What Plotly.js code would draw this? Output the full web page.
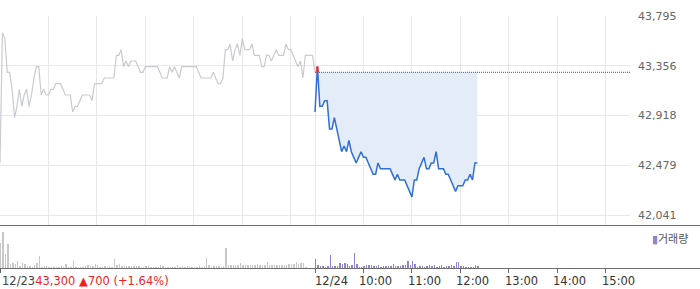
<!DOCTYPE html>
<html>
<head>
<meta charset="utf-8">
<script src="https://cdn.plot.ly/plotly-3.0.1.min.js"></script>
<style>html,body{margin:0;padding:0;background:#fff;}#chart{width:700px;height:289px;}</style>
</head>
<body>
<div id="chart"></div>
<script>
// ---- data ----
const STEP_MIN = 3;            // sampling interval (minutes)
const SESSION_MIN = 390;       // 09:00-15:30
const prevClose = 43300;       // 12/23 close
const dayLabels = ['12/23', '12/24'];
const closeText = '43,300 ▲700 (+1.64%)';

// 12/23 price, every 3 minutes from 09:00
const price1 = [
  42500, 43650, 43600, 43300, 43300, 43150, 42900, 43000, 43150, 43000,
  43100, 43150, 43000, 43100, 43250, 43350, 43350, 43100, 43150, 43100,
  43100, 43150, 43150, 43200, 43200, 43200, 43150, 43100, 43100, 43100,
  42950, 43000, 43000, 43050, 43100, 43100, 43100, 43100, 43050, 43200,
  43200, 43200, 43200, 43250, 43250, 43250, 43250, 43250, 43450, 43450,
  43500, 43350, 43400, 43350, 43400, 43400, 43400, 43350, 43300, 43300,
  43350, 43350, 43350, 43350, 43350, 43350, 43300, 43250, 43250, 43250,
  43350, 43300, 43350, 43300, 43250, 43350, 43350, 43350, 43350, 43350,
  43350, 43350, 43300, 43250, 43250, 43250, 43250, 43250, 43300, 43250,
  43200, 43200, 43250, 43500, 43500, 43550, 43400, 43500, 43550, 43450,
  43600, 43500, 43500, 43500, 43550, 43450, 43450, 43450, 43350, 43350,
  43450, 43450, 43400, 43450, 43500, 43450, 43450, 43450, 43550, 43500,
  43500, 43450, 43400, 43350, 43400, 43250, 43450, 43450, 43450, 43450,
  43300
];
// 12/24 price, every 3 minutes from 09:00
const price2 = [
  42950, 43350, 43000, 43000, 43050, 43050, 42800, 42800, 42900, 42800,
  42700, 42600, 42650, 42600, 42700, 42600, 42550, 42500, 42550, 42600,
  42550, 42550, 42500, 42450, 42400, 42400, 42500, 42450, 42450, 42450,
  42450, 42450, 42400, 42350, 42400, 42350, 42350, 42350, 42300, 42250,
  42200, 42350, 42350, 42450, 42500, 42550, 42450, 42450, 42500, 42500,
  42600, 42450, 42450, 42450, 42400, 42400, 42350, 42300, 42250, 42300,
  42300, 42300, 42350, 42350, 42400, 42350, 42500, 42500
];
// volume (thousand shares), every 3 minutes
const vol1 = [
  25, 36, 14, 24, 4, 5, 4, 7, 2, 5,
  4, 2, 2, 1, 3, 5, 12, 1, 2, 2,
  1, 1, 1, 1, 1, 2, 1, 4, 1, 1,
  7, 1, 1, 1, 1, 2, 3, 2, 2, 4,
  3, 1, 1, 2, 1, 2, 1, 9, 3, 4,
  2, 2, 2, 2, 2, 2, 2, 2, 1, 1,
  2, 2, 1, 1, 1, 1, 3, 2, 1, 1,
  1, 1, 1, 3, 1, 2, 1, 2, 1, 1,
  1, 1, 2, 1, 2, 10, 3, 1, 2, 2,
  2, 1, 2, 20, 3, 3, 3, 3, 3, 5,
  3, 3, 3, 3, 3, 3, 4, 3, 3, 3,
  6, 3, 3, 3, 3, 3, 3, 3, 3, 4,
  4, 4, 6, 4, 5, 5, 1, 0, 0, 0,
  0
];
const vol2 = [
  9, 3, 2, 2, 1, 2, 13, 2, 2, 2,
  5, 4, 5, 4, 2, 3, 15, 4, 1, 1,
  2, 3, 3, 3, 2, 2, 3, 1, 2, 2,
  2, 2, 4, 2, 2, 2, 3, 3, 7, 3,
  7, 4, 1, 2, 2, 1, 2, 3, 2, 3,
  1, 2, 3, 1, 2, 2, 3, 2, 6, 6,
  2, 2, 1, 1, 1, 1, 3, 2
];
// axis ticks
const priceTickVals = [42041, 42479.5, 42918, 43356.5, 43795];
const priceTickText = ['42,041', '42,479', '42,918', '43,356', '43,795'];
const gridVals = [60, 120, 180, 240, 300, 360, 390, 450, 510, 570, 630, 690, 750];
const timeTickVals = [0, 390, 450, 510, 570, 630, 690, 750];
const timeTickText = ['12/23', '12/24', '10:00', '11:00', '12:00', '13:00', '14:00', '15:00'];
const volumeName = '거래량';

// ---- derived ----
const t1 = price1.map((_, i) => i * STEP_MIN);
const t2 = price2.map((_, i) => SESSION_MIN + i * STEP_MIN);
const tv1 = vol1.map((_, i) => i * STEP_MIN);
const tv2 = vol2.map((_, i) => SESSION_MIN + i * STEP_MIN);

// segments of day 2 above previous close (drawn red)
const rx = [], ry = [];
for (let i = 0; i < price2.length - 1; i++) {
  const a = price2[i], b = price2[i + 1], xa = t2[i], xb = t2[i + 1];
  if (a <= prevClose && b <= prevClose) continue;
  let x0 = xa, y0 = a, x1 = xb, y1 = b;
  if (a < prevClose) { const f = (prevClose - a) / (b - a); x0 = xa + f * (xb - xa); y0 = prevClose; }
  if (b < prevClose) { const f = (prevClose - a) / (b - a); x1 = xa + f * (xb - xa); y1 = prevClose; }
  rx.push(x0, x1, null); ry.push(y0, y1, null);
}

const FONT = 'DejaVu Sans, Liberation Sans, sans-serif';
const H = 289;
const py = v => (H - v) / H; // pixel row -> paper

const traces = [
  { x: t1, y: price1, type: 'scatter', mode: 'lines', line: { color: '#c9cbd0', width: 1.2 }, xaxis: 'x', yaxis: 'y', hoverinfo: 'skip' },
  { x: t2, y: t2.map(() => prevClose), type: 'scatter', mode: 'lines', line: { width: 0, color: 'rgba(0,0,0,0)' }, xaxis: 'x', yaxis: 'y', hoverinfo: 'skip' },
  { x: t2, y: price2, type: 'scatter', mode: 'lines', fill: 'tonexty', fillcolor: '#e4ecf8', line: { color: '#2f6fd6', width: 1.5 }, xaxis: 'x', yaxis: 'y', hoverinfo: 'skip' },
  { x: rx, y: ry, type: 'scatter', mode: 'lines', line: { color: '#f03030', width: 2 }, connectgaps: false, xaxis: 'x', yaxis: 'y', hoverinfo: 'skip' },
  { x: tv1, y: vol1, type: 'bar', width: 1.8, offset: 0, marker: { color: '#c8c8c8', line: { width: 0 } }, xaxis: 'x2', yaxis: 'y2', hoverinfo: 'skip' },
  { x: tv2, y: vol2, type: 'bar', width: 1.8, offset: 0, marker: { color: '#9181c8', line: { width: 0 } }, xaxis: 'x2', yaxis: 'y2', hoverinfo: 'skip' }
];

const annotations = [];
annotations.push({
  xref: 'x2', yref: 'paper', x: timeTickVals[0], y: py(281), xanchor: 'left', yanchor: 'middle', showarrow: false,
  text: timeTickText[0] + '<span style="color:#f01e1e">' + closeText + '</span>',
  font: { family: FONT, size: 11.5, color: '#444' }
});
for (let i = 1; i < timeTickVals.length; i++) {
  annotations.push({
    xref: 'x2', yref: 'paper', x: timeTickVals[i], y: py(281), xanchor: 'left', yanchor: 'middle', showarrow: false,
    xshift: i === 1 ? -2 : -6, text: timeTickText[i], font: { family: FONT, size: 11.5, color: '#333' }
  });
}
annotations.push({
  xref: 'paper', yref: 'paper', x: 650 / 700, y: py(238), xanchor: 'left', yanchor: 'middle', showarrow: false,
  text: '<span style="color:#9181c8">▮</span>' + volumeName,
  font: { family: 'Noto Sans CJK KR, sans-serif', size: 11, color: '#555' }
});

const layout = {
  width: 700, height: 289,
  margin: { l: 0, r: 0, t: 0, b: 0, pad: 0 },
  paper_bgcolor: '#ffffff', plot_bgcolor: 'rgba(0,0,0,0)',
  showlegend: false, bargap: 0,
  xaxis: { domain: [0, 0.9], range: [0, 2 * SESSION_MIN], anchor: 'y', tickmode: 'array', tickvals: gridVals,
           showticklabels: false, ticks: '', showgrid: true, gridcolor: '#e8e8e8', gridwidth: 1, zeroline: false, showline: false, fixedrange: true },
  yaxis: { domain: [py(225), py(16)], range: [41953, 43797], side: 'right', anchor: 'x', tickmode: 'array',
           tickvals: priceTickVals, ticktext: priceTickText, ticks: '', ticklabelstandoff: 7,
           tickfont: { family: FONT, size: 11, color: '#666' }, showgrid: true, gridcolor: '#e8e8e8', gridwidth: 1,
           zeroline: false, showline: false, fixedrange: true },
  xaxis2: { domain: [0, 0.9], range: [0, 2 * SESSION_MIN], anchor: 'y2', tickmode: 'array', tickvals: timeTickVals,
            showticklabels: false, ticks: 'outside', ticklen: 4, tickwidth: 1, tickcolor: '#666', showgrid: false, zeroline: false, showline: false, fixedrange: true },
  yaxis2: { domain: [py(268), py(226)], range: [0, 42], anchor: 'x2', showgrid: false, showticklabels: false, ticks: '', zeroline: false, showline: false, fixedrange: true },
  shapes: [
    { type: 'line', xref: 'x', yref: 'y', x0: SESSION_MIN, x1: 2 * SESSION_MIN, y0: prevClose, y1: prevClose, line: { color: '#555', width: 1, dash: '1px,1px' } },
    { type: 'line', xref: 'paper', yref: 'paper', x0: 0, x1: 1, y0: py(225.5), y1: py(225.5), line: { color: '#6e6e6e', width: 1 } },
    { type: 'line', xref: 'paper', yref: 'paper', x0: 0, x1: 1, y0: py(268.5), y1: py(268.5), line: { color: '#6e6e6e', width: 1 } }
  ],
  annotations: annotations
};

Plotly.newPlot('chart', traces, layout, { displayModeBar: false, staticPlot: true });
</script>
</body>
</html>
